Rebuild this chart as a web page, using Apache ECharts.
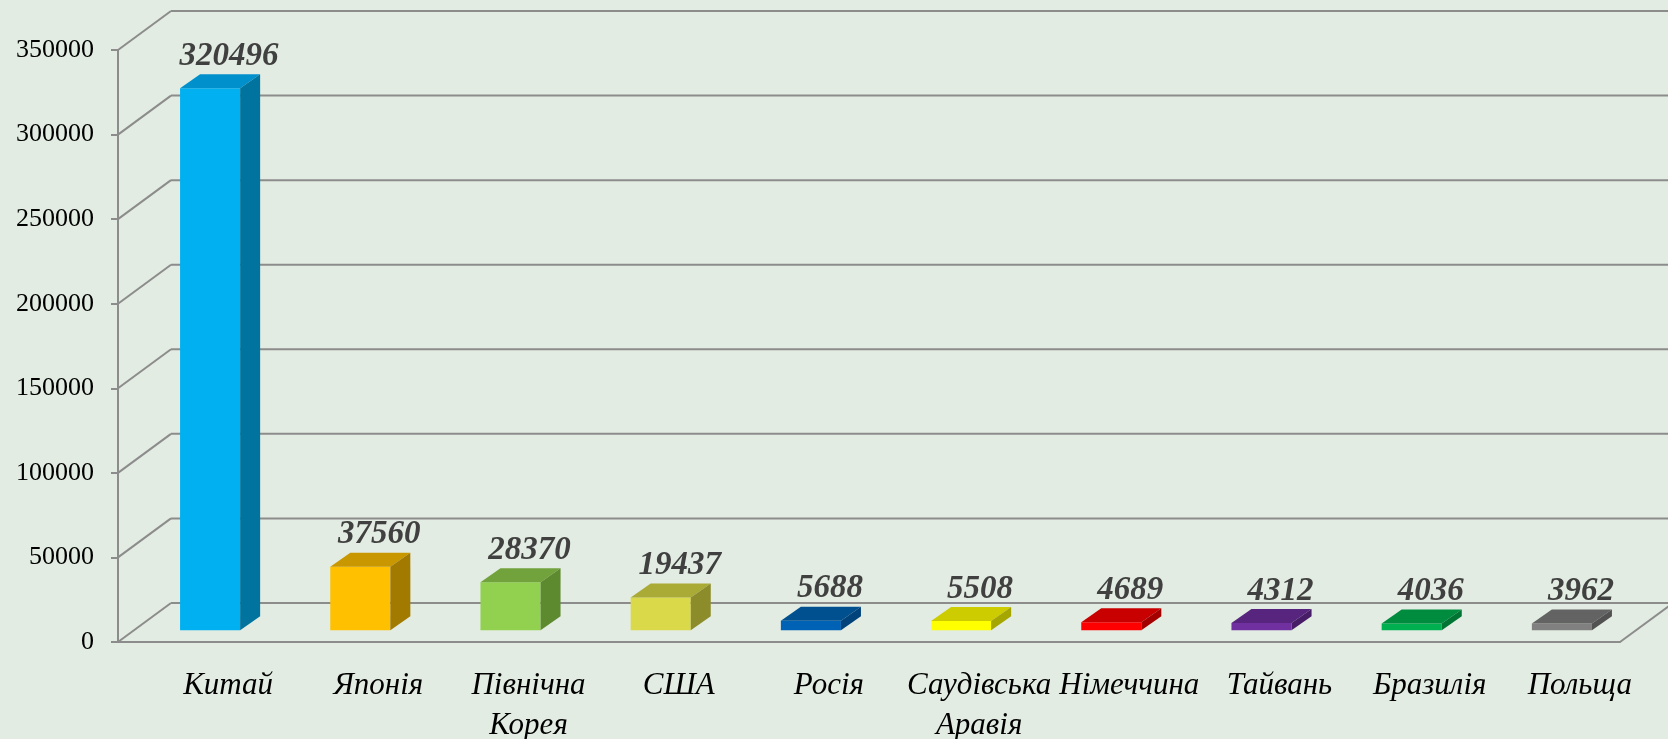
<!DOCTYPE html>
<html><head><meta charset="utf-8">
<script src="https://cdn.jsdelivr.net/npm/echarts@6/dist/echarts.min.js"></script>
<style>html,body{margin:0;padding:0;background:#E2ECE2}#c{width:1668px;height:739px}</style>
</head><body><div id="c"></div>
<script>
const categories = ['Китай','Японія','Північна\nКорея','США','Росія','Саудівська\nАравія','Німеччина','Тайвань','Бразилія','Польща'];
const values = [320496, 37560, 28370, 19437, 5688, 5508, 4689, 4312, 4036, 3962];
const yTicks = [0, 50000, 100000, 150000, 200000, 250000, 300000, 350000];
const frontColors = ['#00B0F0','#FFC000','#92D050','#D9D94A','#0062B4','#FFFF00','#FF0000','#7030A0','#00B050','#808080'];
const topColors   = ['#0090CC','#C99700','#72A23C','#AAAA36','#00508F','#CCCC00','#C80000','#57247E','#008C3E','#636363'];
const sideColors  = ['#00739F','#A37A00','#5E8A2F','#8C8C2A','#00427A','#A6A600','#A50000','#471D68','#007433','#525252'];

const GRID_COLOR = '#8C8C8C';
const WALL_DX = 53, WALL_DY = -39;
const BAR_OX = 17, BAR_OY = -11.7;
const BAR_DX = 20, BAR_DY = -14;

const chart = echarts.init(document.getElementById('c'));
const lineStyle = {stroke: GRID_COLOR, lineWidth: 2};

chart.setOption({
  backgroundColor: '#E2ECE2',
  animation: false,
  grid: {left: 118, right: 48, top: 50, bottom: 97, containLabel: false, outerBoundsMode: 'none'},
  xAxis: {
    type: 'category',
    data: categories,
    boundaryGap: true,
    axisLine: {show: true, lineStyle: {color: GRID_COLOR, width: 2}},
    axisTick: {show: false},
    splitLine: {show: false},
    axisLabel: {
      interval: 0,
      fontFamily: 'Liberation Serif',
      fontStyle: 'italic',
      fontSize: 31,
      color: '#000',
      margin: 24,
      lineHeight: 40,
      padding: [0, 0, 0, 70]
    }
  },
  yAxis: {
    type: 'value',
    min: 0, max: 350000, interval: 50000,
    axisLine: {show: true, lineStyle: {color: GRID_COLOR, width: 2}},
    axisTick: {show: true, length: 7, lineStyle: {color: GRID_COLOR, width: 2}},
    splitLine: {show: false},
    axisLabel: {fontFamily: 'Liberation Serif', fontSize: 26, color: '#000', margin: 24,
      formatter: v => String(v)}
  },
  series: [
    {
      type: 'custom',
      clip: false,
      silent: true,
      z: 1,
      encode: {x: 0, y: 1},
      data: yTicks.map(v => [0, v]),
      renderItem: function (params, api) {
        const cs = params.coordSys;
        const v = api.value(1);
        const y = api.coord([0, v])[1];
        const x0 = cs.x, x1 = cs.x + cs.width;
        const children = [
          {type: 'line', shape: {x1: x0, y1: y, x2: x0 + WALL_DX, y2: y + WALL_DY}, style: lineStyle},
          {type: 'line', shape: {x1: x0 + WALL_DX, y1: y + WALL_DY, x2: x1 + WALL_DX, y2: y + WALL_DY}, style: lineStyle}
        ];
        if (v === 0) {
          children.push({type: 'line', shape: {x1: x1, y1: y, x2: x1 + WALL_DX, y2: y + WALL_DY}, style: lineStyle});
        }
        return {type: 'group', children: children};
      }
    },
    {
      type: 'custom',
      clip: false,
      z: 2,
      encode: {x: 0, y: 1},
      data: values.map((v, i) => [i, v]),
      renderItem: function (params, api) {
        const i = api.value(0), v = api.value(1);
        const base = api.coord([i, 0]);
        const top = api.coord([i, v]);
        const bw = api.size([1, 0])[0] * 0.4;
        const xl = base[0] - bw / 2 + BAR_OX, xr = xl + bw;
        const yb = base[1] + BAR_OY, yt = top[1] + BAR_OY;
        return {
          type: 'group',
          children: [
            {type: 'rect', shape: {x: xl, y: yt, width: bw, height: yb - yt}, style: {fill: frontColors[i]}},
            {type: 'polygon', shape: {points: [[xl, yt], [xr, yt], [xr + BAR_DX, yt + BAR_DY], [xl + BAR_DX, yt + BAR_DY]]}, style: {fill: topColors[i]}},
            {type: 'polygon', shape: {points: [[xr, yt], [xr + BAR_DX, yt + BAR_DY], [xr + BAR_DX, yb + BAR_DY], [xr, yb]]}, style: {fill: sideColors[i]}},
            {type: 'text', x: (xl + xr) / 2 + 19, y: yt - 32, style: {
              text: String(v), fill: '#404040', font: 'italic bold 33px "Liberation Serif"',
              align: 'center', verticalAlign: 'middle'
            }}
          ]
        };
      }
    }
  ]
});
</script>
</body></html>
